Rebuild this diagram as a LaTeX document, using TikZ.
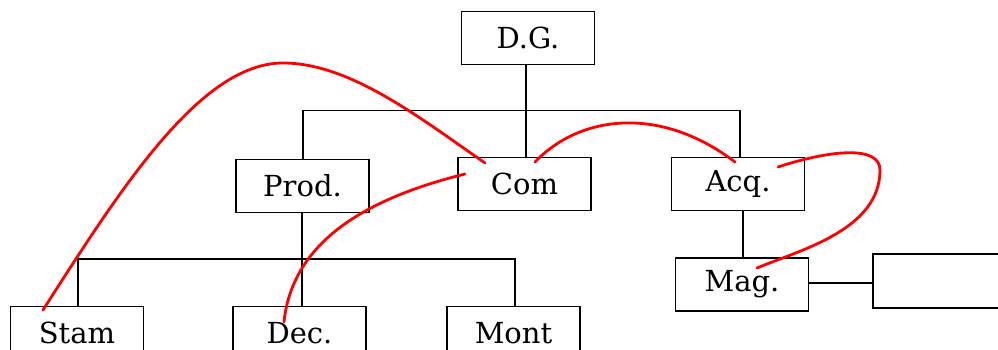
\documentclass[tikz,border=0pt]{standalone}
\usepackage{fontspec}
\setmainfont{DejaVu Serif}
\begin{document}
\begin{tikzpicture}[x=1pt,y=-1pt,
  unit/.style={draw=black,line width=1.9pt,minimum width=133pt,minimum height=53pt,
    inner sep=0pt,font=\fontsize{29}{29}\selectfont},
  link/.style={draw=black,line width=1.6pt},
  scribble/.style={draw=red,line width=2.8pt,line cap=round,line join=round}]
\useasboundingbox (0,0) rectangle (998,349);
\begin{scope}
\clip (0,0) rectangle (998,349);
% organisation boxes
\node[unit] (dg)   at (528,38)  {D.G.};
\node[unit] (prod) at (302.5,186) {Prod.};
\node[unit] (com)  at (524.5,184) {Com};
\node[unit] (acq)  at (738,184) {Acq.};
\node[unit] (stam) at (77,333)  {Stam};
\node[unit] (dec)  at (299.5,333) {Dec.};
\node[unit] (mont) at (513.5,333) {Mont};
\node[unit] (mag)  at (742,284.5) {Mag.};
\node[unit,minimum width=140pt,minimum height=54pt] (blank) at (943,281) {};
% bus lines
\coordinate (bus1) at (526,110.5);
\coordinate (bus2) at (302,259);
\draw[link] (dg.south -| bus1) -- (bus1);
\draw[link] (prod.north -| 303,0) |- (bus1 -| 740,0) -- (acq.north -| 740,0);
\draw[link] (bus1) -- (com.north -| bus1);
\draw[link] (prod.south -| bus2) -- (bus2);
\draw[link] (stam.north -| 78,0) |- (bus2 -| 515,0) -- (mont.north -| 515,0);
\draw[link] (bus2) -- (dec.north -| bus2);
\draw[link] (acq.south -| 743,0) -- (mag.north -| 743,0);
\draw[link] (mag.east |- 0,283) -- (blank.west |- 0,283);
% red hand-drawn marks
\draw[scribble] (43,310) .. controls (120,190) and (200,63) .. (283,63)
  .. controls (350,63) and (420,118) .. (485,163);
\draw[scribble] (284,322) .. controls (292,245) and (360,200) .. (465,174);
\draw[scribble] (535,162) .. controls (580,115) and (660,105) .. (735,162);
\draw[scribble] (778,167) .. controls (830,150) and (880,145) .. (880,170)
  .. controls (880,230) and (800,250) .. (757,268);
\end{scope}
\end{tikzpicture}
\end{document}
